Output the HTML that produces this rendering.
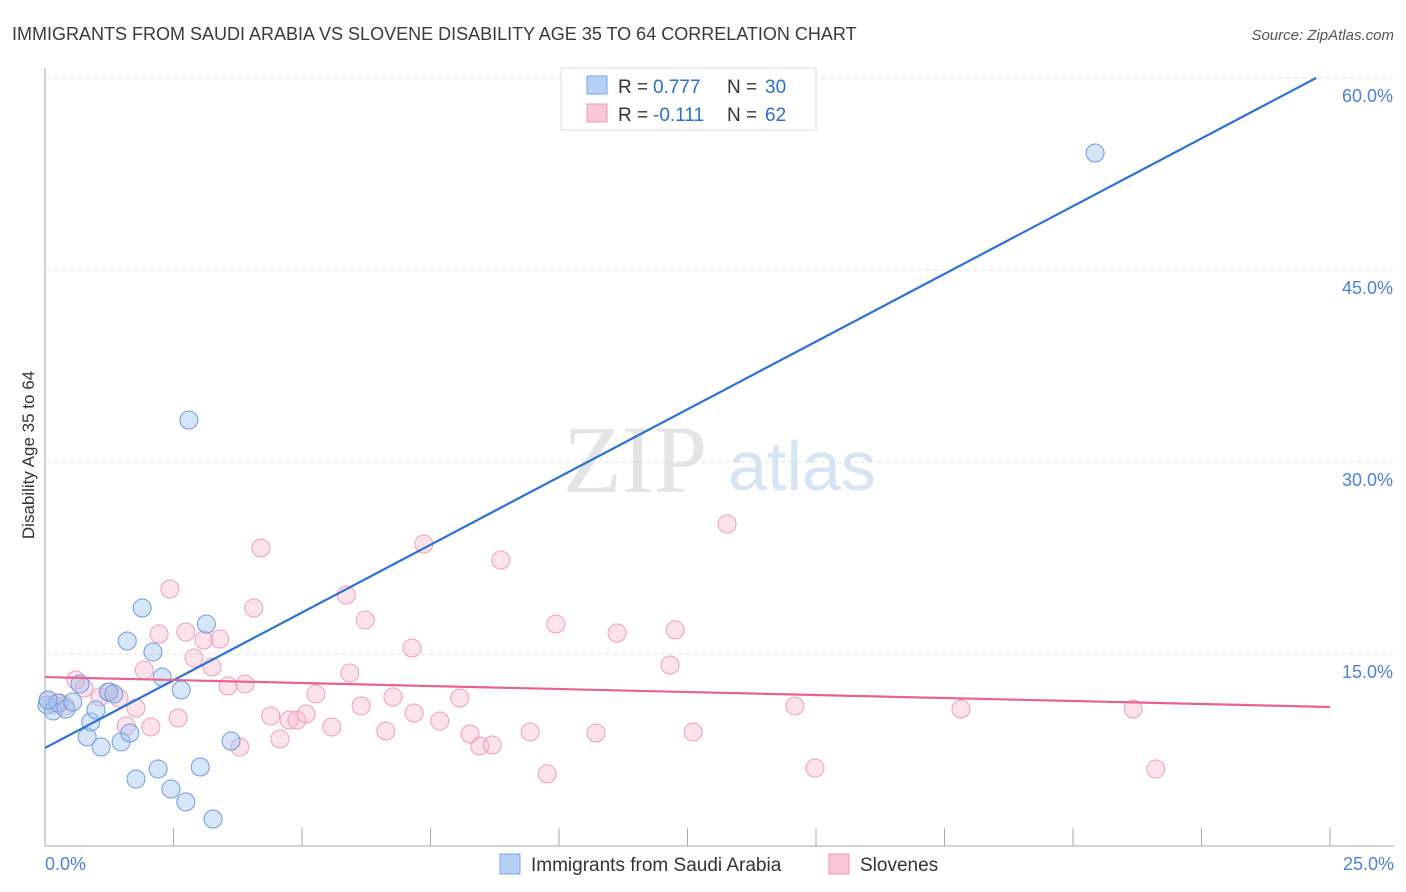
<!DOCTYPE html>
<html><head><meta charset="utf-8"><style>
body{margin:0;background:#fff;font-family:"Liberation Sans",sans-serif}
svg{display:block}
</style></head><body>
<svg id="chart" width="1406" height="892" xmlns="http://www.w3.org/2000/svg">
<text x="12" y="40" font-size="18" fill="#3a3a3a">IMMIGRANTS FROM SAUDI ARABIA VS SLOVENE DISABILITY AGE 35 TO 64 CORRELATION CHART</text>
<text x="1394" y="40" font-size="15" fill="#555" font-style="italic" text-anchor="end">Source: ZipAtlas.com</text>
<text x="34" y="455" font-size="17" fill="#333" text-anchor="middle" transform="rotate(-90 34 455)">Disability Age 35 to 64</text>
<g><text x="635" y="492" font-size="96" font-family="Liberation Serif,serif" fill="#e4e4e4" text-anchor="middle">ZIP</text><text x="802" y="490" font-size="70" fill="#d6e4f4" text-anchor="middle">atlas</text></g>
<g id="grid"></g><g id="axes"></g><g id="pts"></g><g id="lines"></g>
<g>
<rect x="561" y="68" width="255" height="62" fill="#fff" stroke="#ddd"/>
<rect x="587" y="76" width="20" height="18" fill="#b5d0f5" stroke="#7aa6e4"/>
<rect x="587" y="104" width="20" height="18" fill="#f9c6d5" stroke="#ec9ab3"/>
<text y="93" font-size="19" fill="#333"><tspan x="618">R =</tspan><tspan x="653" fill="#2a6fd6">0.777</tspan><tspan x="727">N =</tspan><tspan x="765" fill="#2a6fd6">30</tspan></text>
<text y="121" font-size="19" fill="#333"><tspan x="618">R =</tspan><tspan x="653" fill="#2a6fd6">-0.111</tspan><tspan x="727">N =</tspan><tspan x="765" fill="#2a6fd6">62</tspan></text>
</g>
<g>
<rect x="500" y="854" width="20" height="20" fill="#b5d0f5" stroke="#7aa6e4"/>
<text x="531" y="871" font-size="19" fill="#333">Immigrants from Saudi Arabia</text>
<rect x="829" y="854" width="20" height="20" fill="#f9c6d5" stroke="#ec9ab3"/>
<text x="860" y="871" font-size="19" fill="#333">Slovenes</text>
</g>
</svg>
<script>
const xTicks=[0,2.5,5,7.5,10,12.5,15,17.5,20,22.5,25];
const yTicks=[15,30,45,60];
const yTickLabels=["15.0%","30.0%","45.0%","60.0%"];
const xEndLabels=["0.0%","25.0%"];
const blueX=[0.04,0.16,0.25,0.41,0.54,0.68,0.82,0.89,0.99,1.09,1.23,1.34,1.48,1.60,1.65,1.77,1.89,2.10,2.20,2.28,2.45,2.65,2.74,2.80,3.02,3.14,3.27,3.62,20.43,0.06];
const blueY=[11.02,10.55,11.17,10.70,11.25,12.66,8.52,9.69,10.63,7.73,12.03,11.88,8.13,16.02,8.83,5.23,18.59,15.16,6.02,13.20,4.45,12.19,3.44,33.28,6.17,17.34,2.11,8.20,54.14,11.41];
const pinkX=[0.06,0.19,0.39,0.60,0.76,1.07,1.26,1.44,1.58,1.77,1.93,2.06,2.22,2.43,2.59,2.74,2.90,3.09,3.25,3.40,3.56,3.79,3.89,4.06,4.20,4.39,4.57,4.75,4.90,5.08,5.27,5.58,5.86,5.93,6.15,6.23,6.63,6.77,7.14,7.18,7.37,7.68,8.07,8.27,8.46,8.70,8.87,9.44,9.77,9.94,10.72,11.13,12.16,12.26,12.61,13.27,14.59,14.98,17.82,21.17,21.61,0.29];
const pinkY=[11.41,11.02,10.94,12.97,12.34,11.64,12.03,11.56,9.38,10.78,13.75,9.30,16.56,20.08,10.00,16.72,14.69,16.09,13.98,16.17,12.50,7.73,12.66,18.59,23.28,10.16,8.36,9.84,9.84,10.31,11.88,9.30,19.61,13.52,10.94,17.66,8.98,11.64,15.47,10.39,23.59,9.77,11.56,8.75,7.81,7.89,22.34,8.91,5.63,17.34,8.83,16.64,14.14,16.88,8.91,25.16,10.94,6.09,10.70,10.70,6.02,11.17];
const blueFit=[7.66,60.0,24.73];
const pinkFit=[13.2,10.86,25];
const X=v=>45+v/25*1285, Y=v=>846-v/15*192;
const NS="http://www.w3.org/2000/svg";
function mk(p,t,a){const e=document.createElementNS(NS,t);for(const k in a)e.setAttribute(k,a[k]);p.appendChild(e);return e;}
const grid=document.getElementById('grid'),axes=document.getElementById('axes'),pts=document.getElementById('pts'),lines=document.getElementById('lines');
yTicks.forEach((v,i)=>{
 const g=mk(grid,'line',{x1:45,x2:1394,y1:Y(v),y2:Y(v),stroke:'#ddd','stroke-dasharray':'4 4'});
 
 
 const t=mk(grid,'text',{x:1393,y:Y(v)+24,'font-size':18,fill:'#4a82dc','text-anchor':'end'});
 t.textContent=yTickLabels[i];
 
 
});
const ax=mk(axes,'line',{x1:45,x2:45,y1:68,y2:846,stroke:'#aaa'});


const bx=mk(axes,'line',{x1:45,x2:1394,y1:846,y2:846,stroke:'#aaa'});


xTicks.forEach(v=>{const l=mk(axes,'line',{x1:X(v),x2:X(v),y1:828,y2:846,stroke:'#aaa'});
 
 });
[[0,'start',45],[25,'end',1394]].forEach((d,i)=>{const t=mk(axes,'text',{x:d[2],y:870,'font-size':18,fill:'#4a82dc','text-anchor':d[1]});t.textContent=xEndLabels[i];
 
 });
pinkX.forEach((v,i)=>{const c=mk(pts,'circle',{cx:X(v),cy:Y(pinkY[i]),r:9,fill:'rgba(246,175,198,0.35)',stroke:'#ef9db8','stroke-width':1});
 
 });
blueX.forEach((v,i)=>{const c=mk(pts,'circle',{cx:X(v),cy:Y(blueY[i]),r:9,fill:'rgba(165,198,240,0.45)',stroke:'#6b9ae0','stroke-width':1});
 
 });
const bl=mk(lines,'line',{x1:X(0),y1:Y(blueFit[0]),x2:X(blueFit[2]),y2:Y(blueFit[1]),stroke:'#2a72d6','stroke-width':2.2});


const pl=mk(lines,'line',{x1:X(0),y1:Y(pinkFit[0]),x2:X(pinkFit[2]),y2:Y(pinkFit[1]),stroke:'#e8628e','stroke-width':2.2});


</script>
</body></html>
